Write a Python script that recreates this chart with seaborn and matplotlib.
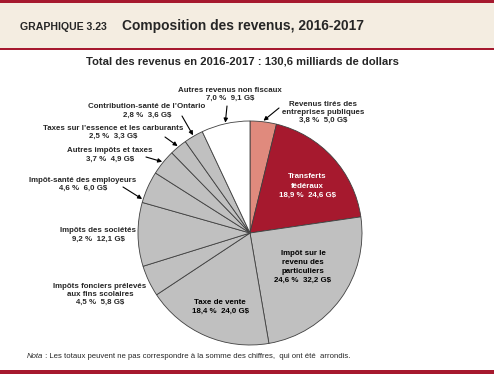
import matplotlib.pyplot as plt
import seaborn as sns
import numpy as np
from matplotlib.patches import Rectangle

# slices, clockwise from 12 o'clock
categories = [
    "Revenus tirés des\nentreprises publiques",
    "Transferts\nfédéraux",
    "Impôt sur le\nrevenu des\nparticuliers",
    "Taxe de vente",
    "Impôts fonciers prélevés\naux fins scolaires",
    "Impôts des sociétés",
    "Impôt-santé des employeurs",
    "Autres impôts et taxes",
    "Taxes sur l’essence et les carburants",
    "Contribution-santé de l’Ontario",
    "Autres revenus non fiscaux",
]
shares = [3.8, 18.9, 24.6, 18.4, 4.5, 9.2, 4.6, 3.7, 2.5, 2.8, 7.0]
amounts = [5.0, 24.6, 32.2, 24.0, 5.8, 12.1, 6.0, 4.9, 3.3, 3.6, 9.1]

RED = "#A6192E"
SALMON = "#E08A7D"
GREY = "#C0C0C0"
slice_colors = [SALMON, RED] + [GREY] * 8 + ["white"]

W, H = 494, 374
FS = 5.7

sns.set_theme(style="white")
plt.rcParams['font.family'] = ['Liberation Sans', 'DejaVu Sans']

fig = plt.figure(figsize=(W / 100, H / 100), dpi=100)


def px(x, y):
    return x / W, 1 - y / H


# header band
fig.patches.append(Rectangle((0, 1 - 48 / H), 1, 45 / H, transform=fig.transFigure,
                             facecolor="#F4EDE1", edgecolor="none"))
fig.patches.append(Rectangle((0, 1 - 3 / H), 1, 3 / H, transform=fig.transFigure,
                             facecolor=RED, edgecolor="none"))
fig.patches.append(Rectangle((0, 1 - 50 / H), 1, 2 / H, transform=fig.transFigure,
                             facecolor=RED, edgecolor="none"))
fig.patches.append(Rectangle((0, 0), 1, 4 / H, transform=fig.transFigure,
                             facecolor=RED, edgecolor="none"))

fig.text(*px(20, 27), "GRAPHIQUE 3.23", fontsize=7.6, fontweight="bold", va="center")
fig.text(*px(122, 26), "Composition des revenus, 2016-2017", fontsize=9.9,
         fontweight="bold", va="center")
fig.text(*px(242, 62), "Total des revenus en 2016-2017 : 130,6 milliards de dollars",
         fontsize=8.1, fontweight="bold", ha="center", va="center")

# pie: center (250, 233), radius 112 px
cx, cy, r = 250, 233, 112
ax = fig.add_axes([(cx - r) / W, (H - cy - r) / H, 2 * r / W, 2 * r / H])
wedges, _ = ax.pie(shares, colors=slice_colors, startangle=90, counterclock=False,
                   wedgeprops=dict(edgecolor="#404040", linewidth=0.6))
ax.set_xlim(-1, 1)
ax.set_ylim(-1, 1)
ax.axis("off")


def lab(i):
    pct = f"{shares[i]:.1f}".replace(".", ",")
    amt = f"{amounts[i]:.1f}".replace(".", ",")
    return f"{categories[i]}\n{pct} %  {amt} G$"


# labels inside the pie
inside = {1: (307, 186), 2: (303, 267), 3: (220, 307)}
for i, (x, y) in inside.items():
    fig.text(*px(x, y), lab(i), fontsize=FS, fontweight="bold", ha="center",
             va="center", color="white" if i == 1 else "black", linespacing=1.4)

# outside labels without arrows
plain = {4: (100, 294), 5: (98, 235)}
for i, (x, y) in plain.items():
    fig.text(*px(x, y), lab(i), fontsize=FS, fontweight="bold", ha="center",
             va="center", linespacing=1.2)

# outside labels with arrows: text centre, arrow tail, position within slice
arrowed = {
    0: ((323, 112), (279, 108), 0.5),
    6: ((83, 184), (123, 187), 0.1),
    7: ((110, 155), (146, 157), 0.5),
    8: ((113, 132), (165, 137), 0.5),
    9: ((147, 111), (182, 116), 0.5),
    10: ((230, 94), (227, 106), 0.5),
}
cum = np.cumsum([0] + shares)
for i, ((tx, ty), (ax0, ay0), f) in arrowed.items():
    fig.text(*px(tx, ty), lab(i), fontsize=FS, fontweight="bold", ha="center",
             va="center", linespacing=1.2)
    mid = np.deg2rad(90 - (cum[i] + shares[i] * f) / 100 * 360)
    ax.annotate("", xy=(np.cos(mid) * 1.01, np.sin(mid) * 1.01), xycoords="data",
                xytext=px(ax0, ay0), textcoords="figure fraction",
                arrowprops=dict(arrowstyle="-|>", color="black", lw=0.8,
                                mutation_scale=6, shrinkA=0, shrinkB=0),
                annotation_clip=False)

nota = fig.text(*px(27, 356), "Nota", fontsize=5.6, style="italic", va="center")
fig.text(*px(27, 356), "", fontsize=5.6)
ax.annotate(" : Les totaux peuvent ne pas correspondre à la somme des chiffres,  qui ont été  arrondis.",
            xy=(1, 0.5), xycoords=nota, ha="left", va="center", fontsize=5.6,
            annotation_clip=False)

fig.savefig("out.png", dpi=100)
